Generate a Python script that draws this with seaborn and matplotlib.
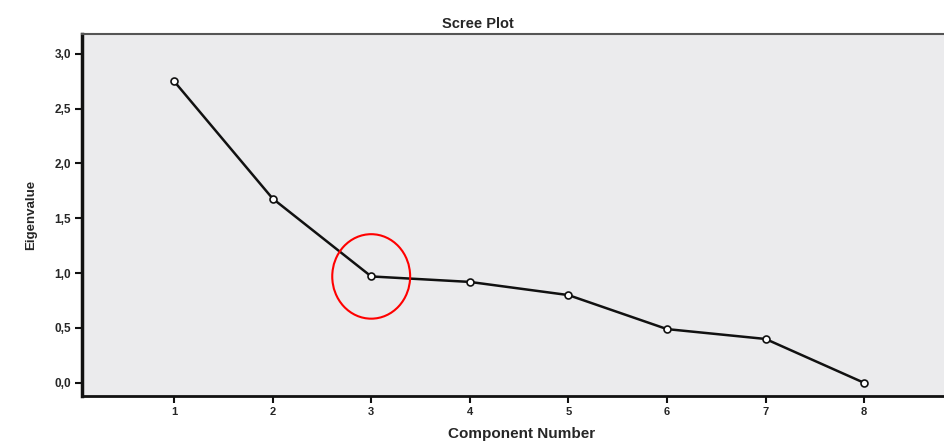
import matplotlib.pyplot as plt
import seaborn as sns
import pandas as pd
from matplotlib.patches import Ellipse

sns.set_style("white")
plt.rcParams["font.family"] = ["Liberation Sans", "DejaVu Sans"]

components = [1, 2, 3, 4, 5, 6, 7, 8]
eigenvalues = [2.75, 1.68, 0.97, 0.92, 0.80, 0.49, 0.40, 0.0]
y_ticks = [0.0, 0.5, 1.0, 1.5, 2.0, 2.5, 3.0]
y_tick_labels = ["0,0", "0,5", "1,0", "1,5", "2,0", "2,5", "3,0"]
elbow = 3

df = pd.DataFrame({"component": components, "eigenvalue": eigenvalues})

fig = plt.figure(figsize=(9.45, 4.41), dpi=100)
ax = fig.add_axes([0.0868, 0.102, 0.9132, 0.821])
ax.set_facecolor("#ebebed")

sns.lineplot(data=df, x="component", y="eigenvalue", ax=ax, color="#111111",
             linewidth=1.8, marker="o", markersize=5, markerfacecolor="white",
             markeredgecolor="#111111", markeredgewidth=1.2)

elbow_val = eigenvalues[components.index(elbow)]
ax.add_patch(Ellipse((elbow, elbow_val), 0.79, 0.77, fill=False,
                     edgecolor="red", linewidth=1.5, zorder=5))

ax.set_xlim(0.067, 8.82)
ax.set_ylim(-0.12, 3.18)
ax.set_xticks(components)
ax.set_xticklabels([str(c) for c in components], fontsize=8, fontweight="bold")
ax.set_yticks(y_ticks)
ax.set_yticklabels(y_tick_labels, fontsize=8.5, fontweight="bold")
ax.tick_params(axis="both", direction="out", length=5, width=1.5, color="#111111",
               pad=3, bottom=True, left=True)

for side in ["left", "bottom"]:
    ax.spines[side].set_color("#111111")
ax.spines["left"].set_linewidth(2.5)
ax.spines["bottom"].set_linewidth(2)
ax.spines["top"].set_color("#555555")
ax.spines["top"].set_linewidth(1.5)
ax.spines["right"].set_visible(False)

ax.set_title("Scree Plot", fontsize=10.5, fontweight="bold", x=0.459, pad=4)
ax.set_xlabel("Component Number", fontsize=11, fontweight="bold", labelpad=6)
ax.xaxis.set_label_coords(0.509, -0.085)
ax.set_ylabel("Eigenvalue", fontsize=9.5, fontweight="bold", labelpad=12)

fig.savefig("out.png", dpi=100)
plt.close(fig)
